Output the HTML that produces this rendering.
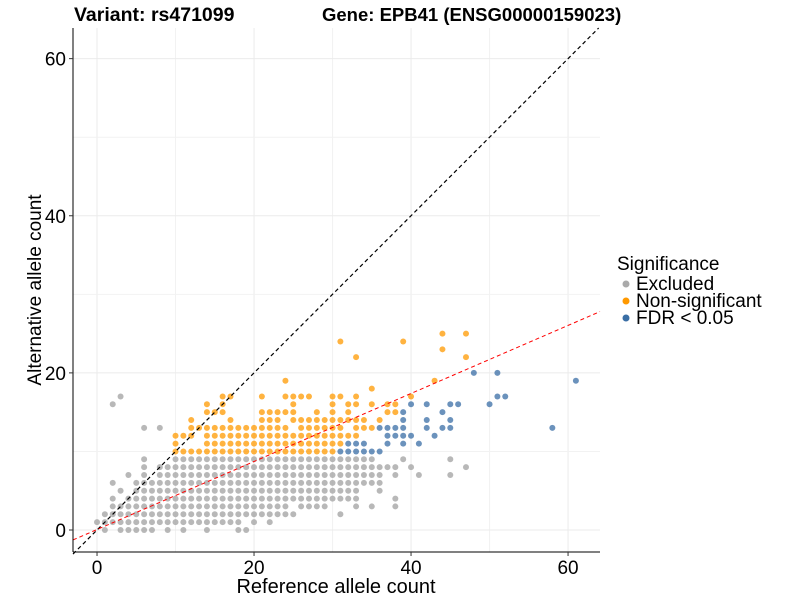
<!DOCTYPE html>
<html><head><meta charset="utf-8"><style>
body{margin:0;background:#fff;font-family:"Liberation Sans",Arial,sans-serif}
svg text{font-family:"Liberation Sans",Arial,sans-serif}
</style></head><body>
<svg id="chart" width="800" height="600" xmlns="http://www.w3.org/2000/svg">
<rect width="800" height="600" fill="#fff"/>
<g id="grid"></g>
<g id="pts"></g>
<g id="lines"></g>
<line x1="73" y1="28" x2="73" y2="552" stroke="#000" stroke-width="1"/>
<line x1="73" y1="552" x2="600" y2="552" stroke="#000" stroke-width="1"/>
<g id="ticks"></g>
<text x="74" y="21" font-size="19.5" font-weight="bold">Variant: rs471099</text>
<text x="322" y="21" font-size="18.5" font-weight="bold">Gene: EPB41 (ENSG00000159023)</text>
<text x="336" y="593" font-size="20" text-anchor="middle">Reference allele count</text>
<text transform="translate(41,290) rotate(-90)" font-size="19" text-anchor="middle">Alternative allele count</text>
<g>
<text x="617" y="270" font-size="19">Significance</text>
<circle cx="626" cy="284" r="3.5" fill="#aaaaaa"/>
<text x="636" y="290" font-size="19">Excluded</text>
<circle cx="626" cy="301" r="3.5" fill="#ff9900"/>
<text x="636" y="307" font-size="19">Non-significant</text>
<circle cx="626" cy="318" r="3.5" fill="#3a6ea5"/>
<text x="636" y="324" font-size="19">FDR &lt; 0.05</text>
</g>
</svg>
<script>
function r(a,b){var o=[];for(var i=a;i<=b;i++)o.push(i);return o;}
// rows: [alt, [ref values]]
var greyRows=[
[0,[1,3,4,5,6,7,9,11,14,18,19]],
[1,r(0,18).concat([20,22])],
[2,r(1,25).concat([31])],
[3,r(2,24).concat([26,27,28,29,33,35,38])],
[4,[2].concat(r(4,33),[38])],
[5,[3].concat(r(5,33),[36])],
[6,[2].concat(r(5,36))],
[7,[4,6].concat(r(8,36),[38,41,45])],
[8,[6].concat(r(8,38),[40,47])],
[9,[6].concat(r(10,35),[39,45])],
[13,[6,8]],[16,[2]],[17,[3]]
];
var orangeRows=[
[10,r(10,30)],
[11,[10].concat(r(14,31))],
[12,[10,11,12].concat(r(14,33))],
[13,r(12,24).concat(r(26,31),[33,34,35])],
[14,[12,17,21,22,23].concat(r(25,34),[36])],
[15,[14,15,16,21,22,23,24,25,28,30,32,37,38]],
[16,[14,16,25,30,32,33,35,37,38]],
[17,[16,17,21,24,25,26,27,30,31,33,40]],
[18,[35]],[19,[24,43]],[22,[33,47]],[23,[44]],[24,[31,39]],[25,[44,47]]
];
var blueRows=[
[10,r(31,36)],
[11,[32,33,34,37,39,41]],
[12,[37,38,39,40,43]],
[13,[36,37,38,39,42,44,45,58]],
[14,[39,42,45]],[15,[39,44]],[16,[40,42,45,46,50]],[17,[51,52]],[19,[61]],[20,[48,51]]
];
var xTicks=[0,20,40,60], yTicks=[0,20,40,60];
var xMinor=[10,30,50], yMinor=[10,30,50];
var slopeFit=0.433, interceptFit=0.06;
var X0=-3.06,X1=64.07,Y0=-2.8,Y1=63.9;
function sx(v){return 73+(v-X0)/(X1-X0)*527;}
function sy(v){return 552-(v-Y0)/(Y1-Y0)*524;}
var NS="http://www.w3.org/2000/svg";
function mk(t,a,p){var e=document.createElementNS(NS,t);for(var k in a)e.setAttribute(k,a[k]);p.appendChild(e);return e;}
var grid=document.getElementById('grid');
xMinor.concat(xTicks).forEach(function(v,i){var e=mk('line',{x1:sx(v),x2:sx(v),y1:28,y2:552,stroke:i<3?'#f2f2f2':'#ebebeb','stroke-width':1},grid);

});
yMinor.concat(yTicks).forEach(function(v,i){var e=mk('line',{x1:73,x2:600,y1:sy(v),y2:sy(v),stroke:i<3?'#f2f2f2':'#ebebeb','stroke-width':1},grid);

});
var pts=document.getElementById('pts');
function draw(rows,col,op,name){rows.forEach(function(row){row[1].forEach(function(x){
var c=mk('circle',{cx:sx(x),cy:sy(row[0]),r:3,fill:col,'fill-opacity':op},pts);

});});}
draw(greyRows,'#a6a6a6',0.8,'point-excluded');
draw(orangeRows,'#ff9900',0.75,'point-nonsignificant');
draw(blueRows,'#3a6ea5',0.75,'point-fdr');
var lines=document.getElementById('lines');
var d=mk('line',{x1:sx(X0),y1:sy(X0),x2:sx(Y1),y2:sy(Y1),stroke:'#000','stroke-width':1.2,'stroke-dasharray':'4,3'},lines);


var f=mk('line',{x1:sx(X0),y1:sy(interceptFit+slopeFit*X0),x2:sx(X1),y2:sy(interceptFit+slopeFit*X1),stroke:'#ff0000','stroke-width':1,'stroke-dasharray':'4,3'},lines);


var ticks=document.getElementById('ticks');
xTicks.forEach(function(v){mk('line',{x1:sx(v),x2:sx(v),y1:552,y2:556,stroke:'#333'},ticks);
var t=mk('text',{x:sx(v),y:574,'font-size':19,'text-anchor':'middle'},ticks);t.textContent=v;

});
yTicks.forEach(function(v){mk('line',{x1:69,x2:73,y1:sy(v),y2:sy(v),stroke:'#333'},ticks);
var t=mk('text',{x:66,y:sy(v)+7,'font-size':19,'text-anchor':'end'},ticks);t.textContent=v;

});
</script>
</body></html>
